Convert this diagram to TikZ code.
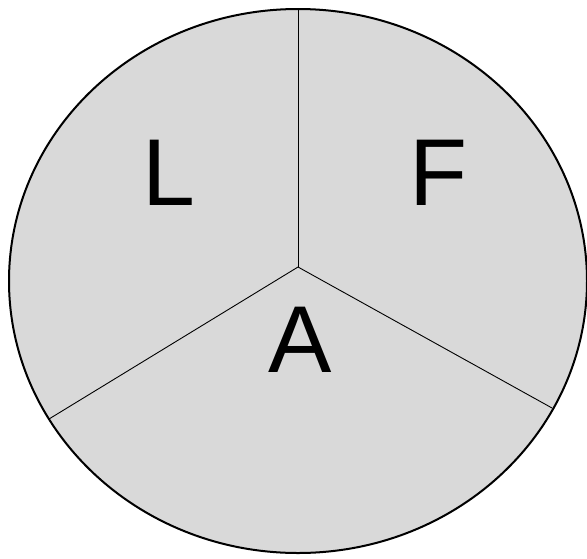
\documentclass[tikz,border=0pt]{standalone}
\usepackage{fontspec}
\setmainfont{Liberation Sans}
\usetikzlibrary{shapes.geometric}
\begin{document}
\begin{tikzpicture}[x=1pt,y=-1pt,
  lbl/.style={anchor=base,inner sep=0pt,font=\fontsize{95}{95}\selectfont},
  divider/.style={draw=black,line width=0.9pt}]
\useasboundingbox (0,0) rectangle (587,558);
\coordinate (c) at (298,267);
\coordinate (t) at (298,9);
\coordinate (bl) at (49,419);
\coordinate (br) at (552,408);
\node[draw=black,line width=2pt,fill={rgb,255:red,217;green,217;blue,217},ellipse,minimum width=578pt,minimum height=544pt,inner sep=0pt] (e) at (298,281) {};
\draw[divider] (c) -- (t);
\draw[divider] (c) -- (bl);
\draw[divider] (c) -- (br);
\node[lbl] (L) at (168.5,205) {L};
\node[lbl] (F) at (438.5,205) {F};
\node[lbl] (A) at (300,372) {A};
\end{tikzpicture}
\end{document}
